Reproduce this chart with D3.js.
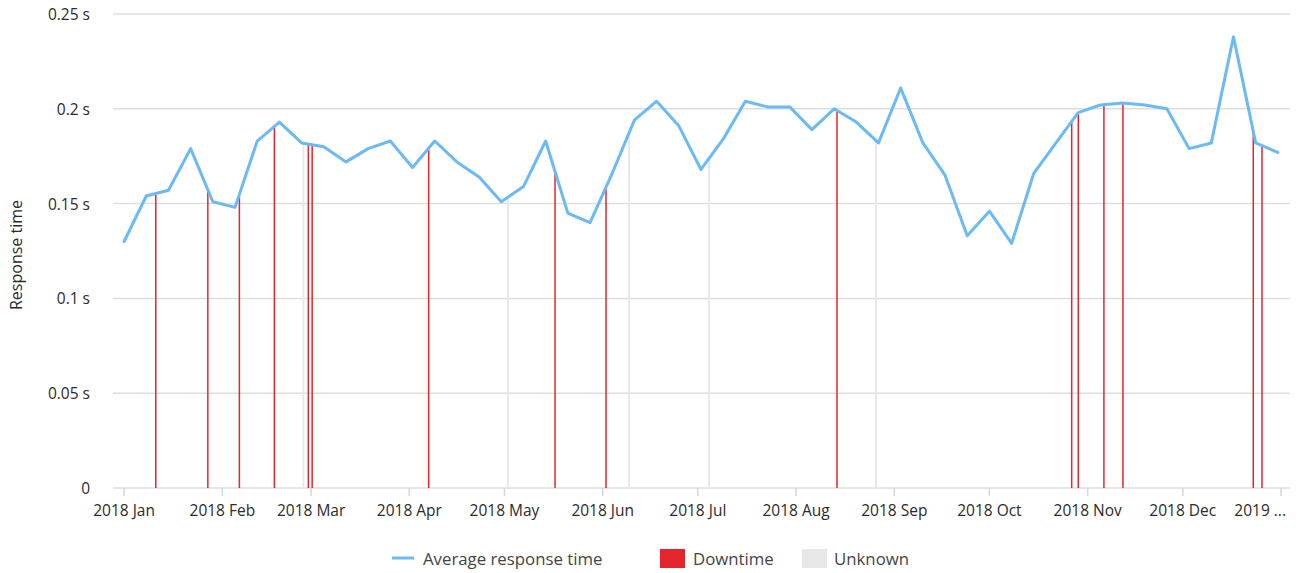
<!DOCTYPE html>
<html>
<head>
<meta charset="utf-8">
<script src="https://cdn.jsdelivr.net/npm/d3@7"></script>
<style>
  html, body { margin: 0; padding: 0; background: #fff; }
  svg { display: block; font-family: "Open Sans", "Lato", sans-serif; }
</style>
</head>
<body>
<svg id="chart" width="1300" height="573"></svg>
<script>
// ---- Data ----
const firstWeek = "2018-01-01";
const avgResponse = [
  0.130, 0.154, 0.157, 0.179, 0.151, 0.148, 0.183, 0.193, 0.182, 0.180,
  0.172, 0.179, 0.183, 0.169, 0.183, 0.172, 0.164, 0.151, 0.159, 0.183,
  0.145, 0.140, 0.166, 0.194, 0.204, 0.191, 0.168, 0.184, 0.204, 0.201,
  0.201, 0.189, 0.200, 0.193, 0.182, 0.211, 0.182, 0.165, 0.133, 0.146,
  0.129, 0.166, 0.182, 0.198, 0.202, 0.203, 0.202, 0.200, 0.179, 0.182,
  0.238, 0.182, 0.177
];
const downtimeDates = [
  "2018-01-11T00:00Z", "2018-01-27T10:00Z", "2018-02-06T09:00Z", "2018-02-17T10:00Z",
  "2018-02-28T03:00Z", "2018-03-01T08:00Z", "2018-04-07T02:00Z", "2018-05-16T23:00Z",
  "2018-06-02T01:00Z", "2018-08-13T22:00Z", "2018-10-26T23:00Z", "2018-10-29T01:00Z",
  "2018-11-06T03:00Z", "2018-11-12T03:00Z", "2018-12-23T06:00Z", "2018-12-26T00:00Z"
];
const unknownDates = [
  "2018-02-26T14:00Z", "2018-05-02T02:00Z", "2018-06-09T07:00Z", "2018-07-04T12:00Z",
  "2018-08-26T05:00Z"
];
const xTickLabels = [
  "2018 Jan", "2018 Feb", "2018 Mar", "2018 Apr", "2018 May", "2018 Jun",
  "2018 Jul", "2018 Aug", "2018 Sep", "2018 Oct", "2018 Nov", "2018 Dec", "2019 ..."
];
const yTickValues = [0, 0.05, 0.1, 0.15, 0.2, 0.25];
const yTickLabels = ["0", "0.05 s", "0.1 s", "0.15 s", "0.2 s", "0.25 s"];
const legendLabels = ["Average response time", "Downtime", "Unknown"];

// ---- Build ----
const start = new Date(firstWeek + "T00:00Z");
const points = avgResponse.map((v, i) => ({ date: d3.utcDay.offset(start, i * 7), value: v }));

const svg = d3.select("#chart");
const pLeft = 113, pRight = 1290, pTop = 14, pBottom = 488;

const x = d3.scaleUtc()
  .domain([new Date(Date.UTC(2017, 11, 28, 12)), new Date(Date.UTC(2019, 0, 3, 20))])
  .range([pLeft, pRight]);
const y = d3.scaleLinear().domain([0, 0.25]).range([pBottom, pTop]);

const textColor = "#2b2b2b";

// gridlines
svg.append("g").selectAll("line").data(yTickValues).join("line")
  .attr("x1", pLeft).attr("x2", pRight)
  .attr("y1", d => y(d)).attr("y2", d => y(d))
  .attr("stroke", "#dedede").attr("stroke-width", 1.5);

// y labels
svg.append("g").selectAll("text").data(yTickValues).join("text")
  .attr("x", 90).attr("y", d => y(d))
  .attr("text-anchor", "end").attr("dominant-baseline", "central")
  .attr("font-size", 15.5).attr("fill", textColor)
  .text((d, i) => yTickLabels[i]);

// y title
svg.append("text")
  .attr("transform", `translate(16,${(pTop + pBottom) / 2 + 4}) rotate(-90)`)
  .attr("text-anchor", "middle").attr("dominant-baseline", "central")
  .attr("font-size", 16).attr("fill", textColor)
  .text("Response time");

// interpolate line value at a date
const bis = d3.bisector(d => d.date).left;
function valueAt(date) {
  const i = bis(points, date);
  if (i <= 0) return points[0].value;
  if (i >= points.length) return points[points.length - 1].value;
  const a = points[i - 1], b = points[i];
  const t = (date - a.date) / (b.date - a.date);
  return a.value + t * (b.value - a.value);
}

// unknown bars
svg.append("g").selectAll("line").data(unknownDates.map(s => new Date(s))).join("line")
  .attr("x1", d => x(d)).attr("x2", d => x(d))
  .attr("y1", y(0)).attr("y2", d => y(valueAt(d)))
  .attr("stroke", "#e8e8e8").attr("stroke-width", 2);

// downtime bars
svg.append("g").selectAll("line").data(downtimeDates.map(s => new Date(s))).join("line")
  .attr("x1", d => x(d)).attr("x2", d => x(d))
  .attr("y1", y(0)).attr("y2", d => y(valueAt(d)))
  .attr("stroke", "#e3262b").attr("stroke-width", 1.5);

// x axis ticks
const monthTicks = d3.utcMonth.range(new Date(Date.UTC(2018, 0, 1)), new Date(Date.UTC(2019, 0, 2)));
const xAxis = svg.append("g");
xAxis.selectAll("line").data(monthTicks).join("line")
  .attr("x1", d => x(d)).attr("x2", d => x(d))
  .attr("y1", pBottom).attr("y2", pBottom + 8)
  .attr("stroke", "#d6d6d6").attr("stroke-width", 1.5);
xAxis.selectAll("text").data(monthTicks).join("text")
  .attr("x", (d, i) => i === monthTicks.length - 1 ? 1286 : x(d))
  .attr("y", pBottom + 22)
  .attr("text-anchor", (d, i) => i === monthTicks.length - 1 ? "end" : "middle")
  .attr("dominant-baseline", "central")
  .attr("font-size", 15.5).attr("fill", textColor)
  .text((d, i) => xTickLabels[i]);

// line
svg.append("path").datum(points)
  .attr("fill", "none").attr("stroke", "#6cbaf5").attr("stroke-width", 3)
  .attr("stroke-linejoin", "round").attr("stroke-linecap", "round")
  .attr("d", d3.line().x(d => x(d.date)).y(d => y(d.value)));

// legend
const lg = svg.append("g");
const ly = 558;
lg.append("line").attr("x1", 392).attr("x2", 414).attr("y1", ly).attr("y2", ly)
  .attr("stroke", "#6cbaf5").attr("stroke-width", 3);
lg.append("text").attr("x", 423).attr("y", ly).attr("dominant-baseline", "central")
  .attr("font-size", 16.8).attr("fill", "#444").text(legendLabels[0]);
lg.append("rect").attr("x", 660).attr("y", 549).attr("width", 25).attr("height", 19).attr("fill", "#e3262b");
lg.append("text").attr("x", 693).attr("y", ly).attr("dominant-baseline", "central")
  .attr("font-size", 16.8).attr("fill", "#444").text(legendLabels[1]);
lg.append("rect").attr("x", 802).attr("y", 549).attr("width", 25).attr("height", 19).attr("fill", "#e8e8e8");
lg.append("text").attr("x", 834).attr("y", ly).attr("dominant-baseline", "central")
  .attr("font-size", 16.8).attr("fill", "#444").text(legendLabels[2]);
</script>
</body>
</html>
